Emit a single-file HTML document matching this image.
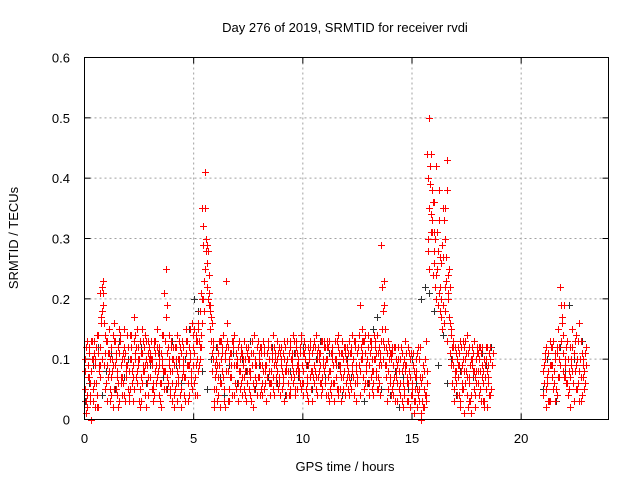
<!DOCTYPE html>
<html><head><meta charset="utf-8"><style>
body{margin:0;background:#fff}
svg{display:block;font-family:"Liberation Sans",sans-serif;font-size:13px}
</style></head><body>
<svg id="chart" width="640" height="480" viewBox="0 0 640 480">
<rect width="640" height="480" fill="#fff"/>
<text x="345" y="32" text-anchor="middle" fill="#000">Day 276 of 2019, SRMTID for receiver rvdi</text>
<g id="grid"></g>
<g id="axes"></g>
<g id="marks"></g>
<rect x="84.5" y="57.5" width="524" height="362" fill="none" stroke="#000"/>
<text x="345" y="471" text-anchor="middle">GPS time / hours</text>
<text transform="translate(18,238) rotate(-90)" text-anchor="middle">SRMTID / TECUs</text>
</svg>
<script>
const xTicks=[0,5,10,15,20];
const yTicks=[0,0.1,0.2,0.3,0.4,0.5,0.6];
const yTickLabels=["0","0.1","0.2","0.3","0.4","0.5","0.6"];
// red series values (hundredths of TECU), segment A: from 0 h every 0.1 h; segment B: from 21.0 h
const redA1=[5,2,12,8,3,10,14,7,22,9,6,11,4,9,13,7,3,10,15,8,12,5,9,14,6,10,3,8,13,11,7,10,4,12,9,6,14,8,11,5,3,9,12,6,2,10,7,13,4,8,11,14,16,18,35,41,29,24,17,12,8,4,2,12,5,23,10,7,13,6,9,5,11,7,3,12,8,6,10,4,7,11,5,9,13,6,10,4,8,12,10,6,12,8,4,11,7,13,9,5,8,12,6,10,3,9,14,7,11,5,6,10,13,4,9,7,12,5,11,8,9,4,11,7,13,6,19,10,5,8,12,7,4,10,14,6,29,23,9,5,7,11,3,9,5,12,2,8,6,10,4,1,8,3,6,2,10,44,50,38,31,42,28,22,35,18,43,25,15,9,6,12,3,9,1,14,7,4,11,2,8,5,12,3,10,7];
const redA2=[1,9,6,13,11,4,8,17,19,5,13,3,8,16,5,12,9,6,11,14,4,10,17,7,12,2,15,9,6,10,13,6,11,8,3,10,21,5,9,12,10,5,8,13,7,4,11,6,15,9,7,10,13,21,32,30,28,19,8,5,12,9,6,14,10,3,7,13,9,11,6,12,9,4,11,8,13,5,9,7,12,4,9,7,10,6,14,9,5,11,5,13,8,11,7,14,4,9,12,6,11,5,9,13,7,12,4,10,6,13,10,4,8,11,6,13,9,3,10,12,5,11,8,13,3,9,12,7,14,10,6,10,14,8,11,4,18,15,3,12,11,4,8,12,6,3,10,7,11,4,9,5,2,7,3,8,13,40,44,36,30,25,38,20,33,27,24,11,6,12,10,4,8,13,6,2,9,12,5,8,4,11,6,9,2,12];
const redA3=[8,13,3,10,6,12,2,21,23,11,3,8,12,5,10,2,14,7,4,9,8,14,3,11,9,13,6,12,10,4,10,3,8,15,12,9,5,25,6,8,6,12,3,9,11,8,13,3,10,5,15,4,9,14,20,25,22,15,11,3,5,11,13,7,2,13,5,11,4,9,12,8,4,10,6,10,3,11,7,13,4,9,12,3,8,12,7,11,10,6,8,10,4,6,12,8,11,5,7,13,4,9,12,7,11,6,10,8,13,9,12,7,5,10,3,9,5,11,7,4,12,7,14,4,9,12,8,15,11,6,9,13,6,11,7,10,22,12,7,10,4,9,12,6,10,8,5,11,3,7,11,7,5,10,1,5,3,30,42,33,26,31,21,17,27,35,20,16,12,3,8,9,12,5,10,7,3,9,13,6,11,8,3,7,12,4];
const redA4=[10,4,7,0,13,6,11,9,18,14,9,15,7,2,11,6,13,4,10,7,3,12,7,10,15,5,11,8,2,13,11,5,13,7,10,2,8,17,12,4,8,2,14,10,5,12,3,9,11,16,6,9,15,12,29,35,26,21,16,2,10,7,13,8,11,16,3,9,12,5,3,10,7,13,8,5,11,2,9,12,9,6,11,3,12,8,5,10,13,7,12,3,9,6,13,10,5,11,8,14,6,10,3,12,8,13,7,11,4,10,9,13,3,12,6,10,14,8,5,11,7,13,5,10,8,12,4,11,13,6,4,12,8,13,5,11,15,19,12,8,10,6,12,3,8,11,4,9,12,2,6,3,11,5,0,9,4,28,39,31,36,20,33,26,19,30,38,22,10,5,11,7,2,10,13,4,12,1,8,10,6,12,9,2,8,11,5];
const redA5=[12,7,4,10,2,14,9,16,21,6,11,5,10,13,8,15,6,11,3,12,14,8,5,12,10,7,13,4,9,12,5,13,9,11,6,14,8,19,10,13,12,6,10,4,13,7,15,9,6,12,4,13,10,16,23,28,20,18,13,9,3,13,10,5,12,8,11,4,14,10,13,6,10,8,12,4,9,14,6,11,5,13,8,11,6,10,12,7,11,4,11,8,13,4,10,6,12,8,11,9,13,7,10,5,12,8,11,6,13,8,4,12,6,9,13,5,11,7,12,10,11,6,9,12,7,14,10,13,6,12,13,5,10,7,12,9,13,9,11,6,5,12,7,10,4,9,13,6,8,11,8,10,4,12,7,2,6,35,31,24,22,28,18,29,16,23,21,14,13,8,4,11,6,12,8,11,3,10,7,12,10,3,8,12,6,10,9];
const redA6=[3,11,13,5,9,2,12,10,16,13,7,10,14,9,4,11,7,12,9,5,10,6,13,8,3,11,9,14,7,10,9,12,6,4,11,8,13,7,14,10,4,10,7,12,9,3,9,12,7,14,13,8,12,20,18,22,19,13,10,7,9,6,11,3,8,12,7,13,6,10,8,11,5,12,10,7,13,9,4,10,12,8,6,13,4,11,9,6,12,9,7,12,10,5,9,13,8,10,6,11,10,4,11,8,13,5,12,9,7,12,12,8,11,6,10,4,9,13,8,6,8,12,10,6,11,9,13,5,9,14,11,8,12,5,9,13,10,7,13,11,12,7,10,8,12,6,9,3,10,5,3,7,12,1,9,4,8,25,34,28,24,19,27,15,22,13,17,9,12,7,9,13,5,8,11,6,10,8,4,11,12,7,10,5,9,4,11];
const redB1=[4,10,6,3,12,8,5,15,22,11,7,13,5,9,3,14,6,10,4,8];
const redB2=[9,2,8,12,5,3,11,7,17,19,6,10,2,12,8,5,16,3,9,12];
const redB3=[6,12,3,9,7,11,4,12,13,8,10,4,7,15,11,9,3,13,7,11];
const redB4=[8,5,11,13,9,6,12,10,19,14,9,6,12,8,11,5,13,7,10,6];
const redB5=[11,7,3,9,13,10,7,9,16,7,12,8,10,6,13,10,8,11,5,9];
// black series: from 0 h every 0.2 h; then from 21.0 h every 0.2 h
const blackA=[3,6,9,12,4,8,11,5,13,7,10,3,8,12,6,9,4,11,7,5,13,9,6,10,15,20,18,8,5,10,12,7,4,9,11,6,10,8,13,5,9,11,7,12,6,10,4,8,11,7,12,9,5,10,13,7,11,6,9,4,10,7,12,8,3,6,15,17,5,9,4,8,2,7,5,10,6,20,22,21,18,9,14,6,10,4,8,12,3,7,6,11,9,12];
const blackB=[5,10,7,3,12,8,19,10,6,13];

const X=h=>84.5+h*524/24, Y=v=>419.5-v*362/0.6;
const NS="http://www.w3.org/2000/svg";
const grid=document.getElementById('grid'),axes=document.getElementById('axes'),marks=document.getElementById('marks');
function mk(t,a,p){const e=document.createElementNS(NS,t);for(const k in a)e.setAttribute(k,a[k]);p.appendChild(e);return e;}
xTicks.forEach(t=>{
 if(t>0){const g=mk('line',{x1:X(t),x2:X(t),y1:57.5,y2:419.5,stroke:'#a0a0a0','stroke-dasharray':'2,3'},grid);
 
 }
 mk('line',{x1:X(t),x2:X(t),y1:419.5,y2:413.5,stroke:'#000'},axes);
 mk('line',{x1:X(t),x2:X(t),y1:57.5,y2:63.5,stroke:'#000'},axes);
 const l=mk('text',{x:X(t),y:443,'text-anchor':'middle'},axes);l.textContent=t;
 
 
});
yTicks.forEach((t,i)=>{
 if(t>0&&t<0.6){const g=mk('line',{x1:84.5,x2:608.5,y1:Y(t),y2:Y(t),stroke:'#a0a0a0','stroke-dasharray':'2,3'},grid);
 
 }
 mk('line',{x1:84.5,x2:90.5,y1:Y(t),y2:Y(t),stroke:'#000'},axes);
 mk('line',{x1:602.5,x2:608.5,y1:Y(t),y2:Y(t),stroke:'#000'},axes);
 const l=mk('text',{x:70,y:Y(t)+5,'text-anchor':'end'},axes);l.textContent=yTickLabels[i];
 
 
});
function plus(arr,t0,dt,col,name){
 let d='';
 arr.forEach((v,i)=>{const x=Math.round(X(t0+i*dt))+0.5,y=Math.round(Y(v/100))+0.5;d+=`M${x-3.5},${y}h7M${x},${y-3.5}v7`;});
 const p=mk('path',{d:d,stroke:col,'stroke-width':1,fill:'none'},marks);
 
 
}
plus(blackA,0,0.2,'#303030','black-points-a');
plus(blackB,21,0.2,'#303030','black-points-b');
plus(redA1,0,0.1,'#ff0000','red-points-a1');
plus(redA2,0.05,0.1,'#ff0000','red-points-a2');
plus(redA3,0.03,0.1,'#ff0000','red-points-a3');
plus(redA4,0.02,0.1,'#ff0000','red-points-a4');
plus(redA5,0.07,0.1,'#ff0000','red-points-a5');
plus(redA6,0.09,0.1,'#ff0000','red-points-a6');
plus(redB1,21,0.1,'#ff0000','red-points-b1');
plus(redB2,21.05,0.1,'#ff0000','red-points-b2');
plus(redB3,21.03,0.1,'#ff0000','red-points-b3');
plus(redB4,21.02,0.1,'#ff0000','red-points-b4');
plus(redB5,21.07,0.1,'#ff0000','red-points-b5');
</script>
</body></html>
